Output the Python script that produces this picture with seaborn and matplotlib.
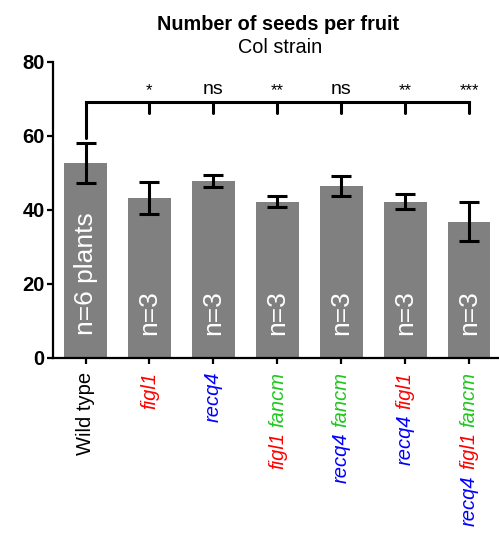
import matplotlib
matplotlib.use("Agg")
import matplotlib.pyplot as plt
import seaborn as sns
import pandas as pd

# ---- data ----
genotypes = ["Wild type", "figl1", "recq4", "figl1 fancm", "recq4 fancm",
             "recq4 figl1", "recq4 figl1 fancm"]
means = [52.7, 43.2, 47.8, 42.2, 46.5, 42.2, 36.8]
sds = [5.4, 4.4, 1.7, 1.4, 2.7, 2.0, 5.3]
n_labels = ["n=6 plants", "n=3", "n=3", "n=3", "n=3", "n=3", "n=3"]
signif = ["", "*", "ns", "**", "ns", "**", "***"]
# label pieces (text, colour, italic) in reading order
label_parts = [
    [("Wild type", "black", False)],
    [("figl1", "red", True)],
    [("recq4", "blue", True)],
    [("figl1", "red", True), ("fancm", "#1ec81e", True)],
    [("recq4", "blue", True), ("fancm", "#1ec81e", True)],
    [("recq4", "blue", True), ("figl1", "red", True)],
    [("recq4", "blue", True), ("figl1", "red", True), ("fancm", "#1ec81e", True)],
]
y_ticks = [0, 20, 40, 60, 80]

sns.set_theme(style="ticks")
plt.rcParams["font.family"] = ["Liberation Sans", "DejaVu Sans"]
plt.rcParams["text.color"] = "black"
plt.rcParams["axes.labelcolor"] = "black"
plt.rcParams["xtick.color"] = "black"
plt.rcParams["ytick.color"] = "black"
plt.rcParams["axes.edgecolor"] = "black"

df = pd.DataFrame({"genotype": genotypes, "mean": means})

fig = plt.figure(figsize=(4.99, 5.39), dpi=100)
ax = fig.add_axes([0.106, 0.336, 0.892, 0.5495])

sns.barplot(data=df, x="genotype", y="mean", color="#808080", saturation=1,
            width=0.665, ax=ax, order=genotypes)
for p in ax.patches:
    p.set_edgecolor("none")

xs = list(range(len(genotypes)))
ax.errorbar(xs, means, yerr=sds, fmt="none", ecolor="black", elinewidth=2.2,
            capsize=7.5, capthick=2.2, zorder=5)

ax.set_ylim(0, 80)
ax.set_xlim(-0.51, 6.45)
ax.set_yticks(y_ticks)
ax.set_yticklabels([str(t) for t in y_ticks], fontsize=14.5, fontweight="bold",
                   color="black")
ax.set_xticks(xs)
ax.set_xticklabels([""] * len(xs))
ax.set_xlabel("")
ax.set_ylabel("")
for s in ["top", "right"]:
    ax.spines[s].set_visible(False)
for s in ["left", "bottom"]:
    ax.spines[s].set_linewidth(1.6)
    ax.spines[s].set_color("black")
ax.tick_params(axis="both", width=1.6, length=4, color="black", pad=2)
ax.tick_params(axis="x", length=4.5)

# n labels inside bars
for i, t in enumerate(n_labels):
    ax.text(i, 6.2, t, rotation=90, ha="center", va="bottom", color="white",
            fontsize=19)

# significance bracket
bracket_y = 69.0
ax.plot([0, 6], [bracket_y, bracket_y], color="black", lw=2.2,
        solid_capstyle="projecting", clip_on=False)
ax.plot([0, 0], [bracket_y, means[0] + sds[0] + 1.2], color="black", lw=2.2,
        clip_on=False)
for i in range(1, len(genotypes)):
    ax.plot([i, i], [bracket_y, 66.1], color="black", lw=2.2, clip_on=False)
    s = signif[i]
    if s == "ns":
        ax.text(i, 71.2, s, ha="center", va="baseline", fontsize=14,
                color="black")
    else:
        ax.text(i, 72.3, s, ha="center", va="center", fontsize=12,
                color="black")

# coloured multi-part x labels (rotated 90°, reading bottom-to-top)
for i, parts in enumerate(label_parts):
    prev = None
    for txt, col, it in reversed(parts):
        style = "italic" if it else "normal"
        if prev is None:
            prev = ax.annotate(txt, xy=(i, 0), xycoords="data",
                               xytext=(0, -10), textcoords="offset points",
                               rotation=90, ha="center", va="top", color=col,
                               fontsize=14.5, fontstyle=style,
                               annotation_clip=False)
        else:
            prev = ax.annotate(txt, xy=(0.5, 0), xycoords=prev,
                               xytext=(0, -4), textcoords="offset points",
                               rotation=90, ha="center", va="top", color=col,
                               fontsize=14.5, fontstyle=style,
                               annotation_clip=False)

fig.text(0.557, 1 - 30 / 539, "Number of seeds per fruit", ha="center",
         va="baseline", fontsize=14.3, fontweight="bold", color="black")
fig.text(0.561, 1 - 53 / 539, "Col strain", ha="center", va="baseline",
         fontsize=14.3, color="black")

fig.savefig("out.png", dpi=100, facecolor="white")
